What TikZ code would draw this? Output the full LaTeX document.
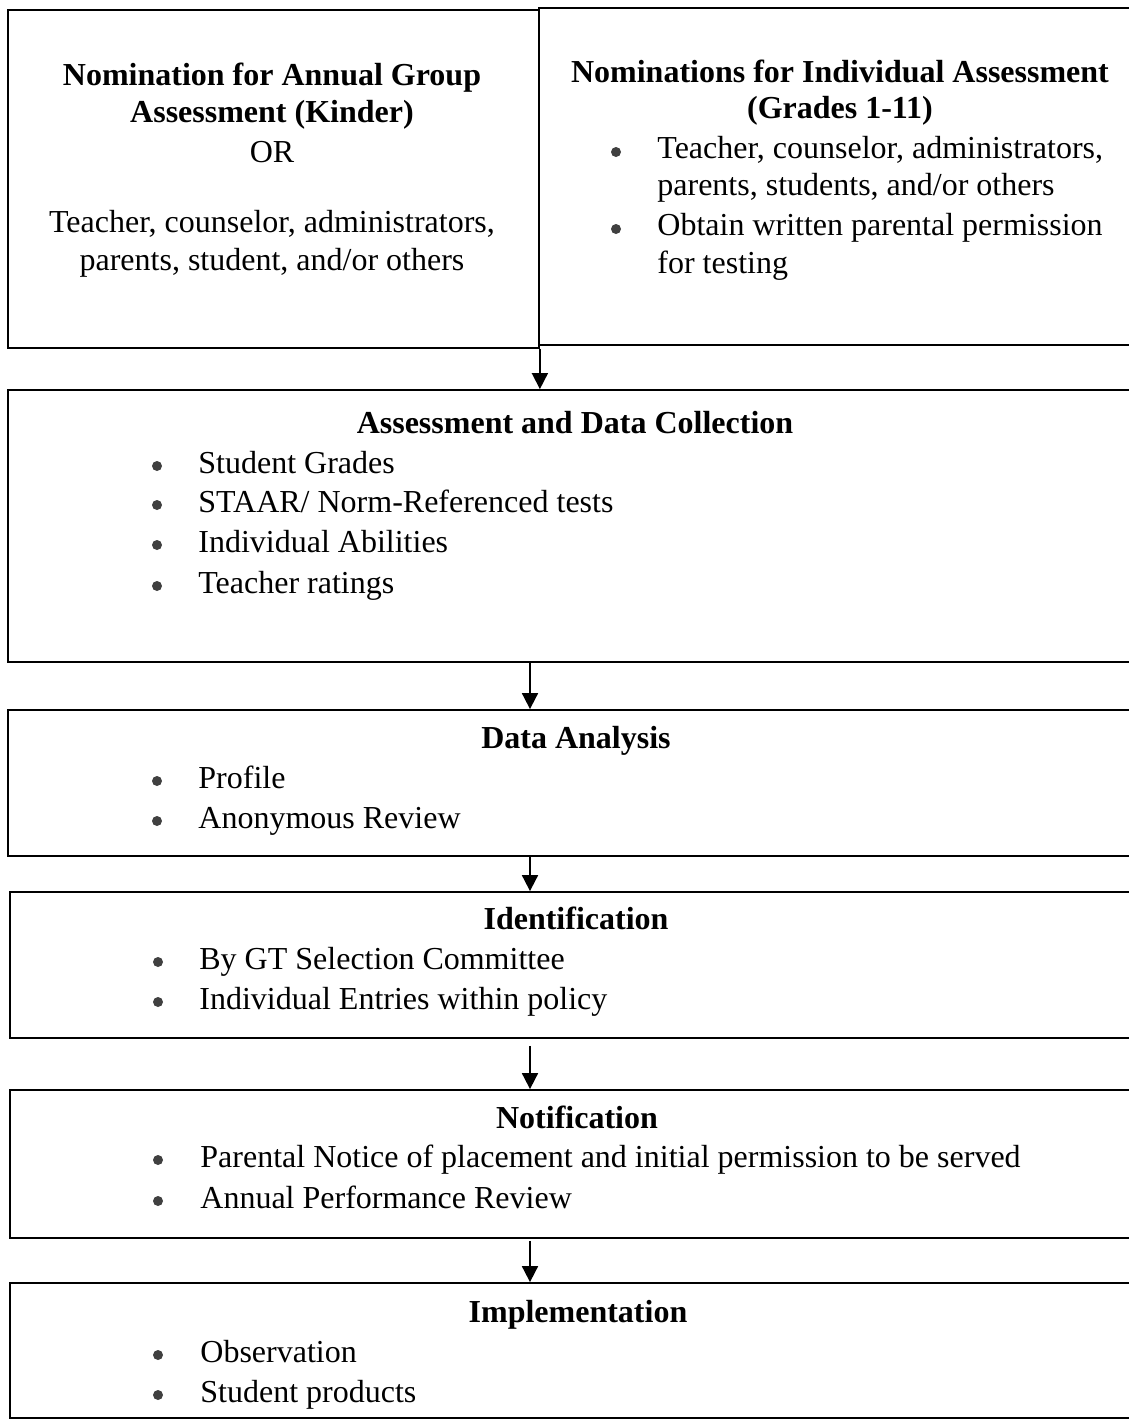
\documentclass[tikz,border=0pt]{standalone}
\usepackage{fontspec}
\setmainfont{Liberation Serif}
\usetikzlibrary{positioning,arrows.meta,fit}

\begin{document}
\begin{tikzpicture}
  [x=0.5pt, y=-0.5pt, font=\fontsize{16pt}{19.5pt}\selectfont]
  \tikzstyle{box}  = [draw=black, line width=0.9pt, inner sep=0pt];
  \tikzstyle{head} = [font=\fontsize{16pt}{19.5pt}\selectfont\bfseries, anchor=base, inner sep=0pt];
  \tikzstyle{line} = [anchor=base, inner sep=0pt];
  \tikzstyle{item} = [anchor=base west, inner sep=0pt];
  \tikzstyle{dot}  = [circle, fill=black!75, inner sep=0pt, minimum size=5pt];
  \tikzstyle{flow} = [-{Triangle[length=8pt,width=8pt]}, line width=0.9pt];

  \useasboundingbox (0,0) rectangle (1129,1425);

  % boxes
  \node[box, fit={(8,10) (539,348)}]      (nomK)     {};
  \node[box, fit={(539,8) (1134,345)}]    (nomI)     {};
  \node[box, fit={(8,390) (1134,662)}]    (assess)   {};
  \node[box, fit={(8,710) (1134,856)}]    (analysis) {};
  \node[box, fit={(10,892) (1134,1038)}]  (ident)    {};
  \node[box, fit={(10,1090) (1134,1238)}] (notif)    {};
  \node[box, fit={(10,1283) (1134,1418)}] (impl)     {};

  \coordinate (col) at (530,0);

  % nomination (kinder)
  \node[head] (kA) at (272, 85)  {Nomination for Annual Group};
  \node[head] (kB) at (272, 122) {Assessment (Kinder)};
  \node[line] (kC) at (272, 162) {OR};
  \node[line] (kD) at (272, 232) {Teacher, counselor, administrators,};
  \node[line] (kE) at (272, 270) {parents, student, and/or others};

  % nomination (individual)
  \node[head] (iA) at (840, 82)  {Nominations for Individual Assessment};
  \node[head] (iB) at (840, 118) {(Grades 1-11)};
  \node[dot]  (iD1) at (616, 152) {};
  \node[item] (iC) at (657, 158) {Teacher, counselor, administrators,};
  \node[item] (iD) at (657, 195) {parents, students, and/or others};
  \node[dot]  (iD2) at (616, 229) {};
  \node[item] (iE) at (657, 235) {Obtain written parental permission};
  \node[item] (iF) at (657, 273) {for testing};

  % assessment
  \node[head] (aT) at (575, 433) {Assessment and Data Collection};
  \node[dot]  (aD1) at (157, 466) {};
  \node[item] (a1) at (198, 473) {Student Grades};
  \node[dot]  (aD2) at (157, 505) {};
  \node[item] (a2) at (198, 512) {STAAR/ Norm-Referenced tests};
  \node[dot]  (aD3) at (157, 545) {};
  \node[item] (a3) at (198, 552) {Individual Abilities};
  \node[dot]  (aD4) at (157, 586) {};
  \node[item] (a4) at (198, 593) {Teacher ratings};

  % analysis
  \node[head] (dT) at (576, 748) {Data Analysis};
  \node[dot]  (dD1) at (157, 781) {};
  \node[item] (d1) at (198, 788) {Profile};
  \node[dot]  (dD2) at (157, 821) {};
  \node[item] (d2) at (198, 828) {Anonymous Review};

  % identification
  \node[head] (nT) at (576, 929) {Identification};
  \node[dot]  (nD1) at (158, 962) {};
  \node[item] (n1) at (199, 969) {By GT Selection Committee};
  \node[dot]  (nD2) at (158, 1002) {};
  \node[item] (n2) at (199, 1009) {Individual Entries within policy};

  % notification
  \node[head] (fT) at (577, 1128) {Notification};
  \node[dot]  (fD1) at (158, 1160) {};
  \node[item] (f1) at (200, 1167) {Parental Notice of placement and initial permission to be served};
  \node[dot]  (fD2) at (158, 1201) {};
  \node[item] (f2) at (200, 1208) {Annual Performance Review};

  % implementation
  \node[head] (mT) at (578, 1322) {Implementation};
  \node[dot]  (mD1) at (158, 1355) {};
  \node[item] (m1) at (200, 1362) {Observation};
  \node[dot]  (mD2) at (158, 1395) {};
  \node[item] (m2) at (200, 1402) {Student products};

  % arrows
  \draw[flow] (nomK.south east) -- (nomK.south east |- assess.north);
  \draw[flow] (assess.south -| col) -- (analysis.north -| col);
  \draw[flow] (analysis.south -| col) -- (ident.north -| col);
  \draw[flow] ([yshift=-3.5pt]ident.south -| col) -- (notif.north -| col);
  \draw[flow] ([yshift=-1pt]notif.south -| col) -- (impl.north -| col);

\end{tikzpicture}
\end{document}
